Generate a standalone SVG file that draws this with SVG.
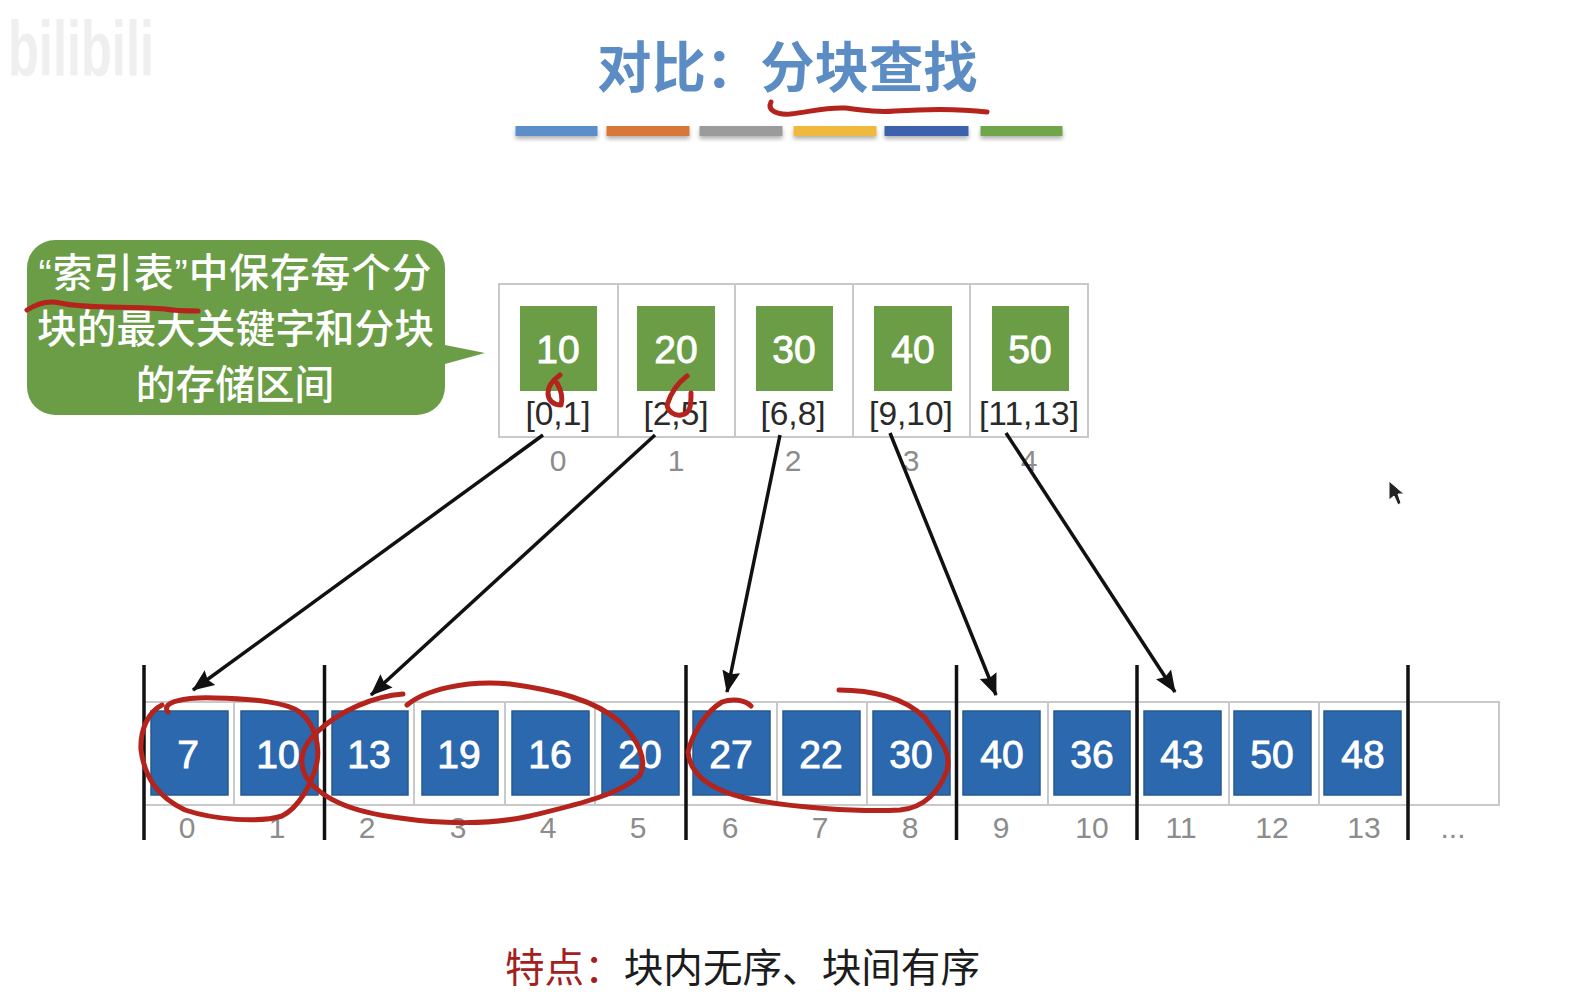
<svg xmlns="http://www.w3.org/2000/svg" width="1570" height="999" viewBox="0 0 1570 999">
<style>
text{font-family:"Liberation Sans","Noto Sans CJK SC",sans-serif}
.c{text-anchor:middle}
.cell{fill:#fff;stroke:#c9c9c9;stroke-width:2}
.blue{fill:#2c68ae;stroke:#25598f;stroke-width:1.5}
.green{fill:#6b9d47}
.num{font-size:39px;fill:#fff;text-anchor:middle;stroke:#fff;stroke-width:.9}
.range{font-size:33.500px;fill:#2a2a2a;text-anchor:middle}
.idx{font-size:30px;fill:#8c8c8c;text-anchor:middle}
.bar{stroke:#111;stroke-width:3.500}
.arrow{stroke:#111;stroke-width:3.500;fill:none;marker-end:url(#ah)}
.ink{fill:none;stroke:#b4231c;stroke-width:5;stroke-linecap:round;stroke-linejoin:round}
.cjk{font-family:"Noto Sans CJK SC",sans-serif}
.tab{filter:url(#sh)}
.call{font-size:39.700px;fill:#fff;text-anchor:middle;font-weight:500}
</style>
<defs>
<marker id="ah" markerUnits="userSpaceOnUse" markerWidth="24" markerHeight="20" refX="21" refY="10" orient="auto"><path d="M0 1L22 10L0 19L3 10Z" fill="#111"/></marker>
<filter id="sh" x="-5%" y="-30%" width="110%" height="190%"><feDropShadow dx="0" dy="3" stdDeviation="2" flood-color="#000" flood-opacity=".3"/></filter>
</defs>
<rect width="1570" height="999" fill="#fff"/>
<g id="watermark"><text x="8" y="76" font-size="78" font-weight="700" fill="#efefef" textLength="146" lengthAdjust="spacingAndGlyphs">bilibili</text></g>
<g id="title"><text class="cjk" x="597" y="87" font-size="54.400" font-weight="700" fill="#5b8cc4">对比&#xFF1A;分块查找</text>
<path class="ink" d="M771 102C767 110 776 115 790 114C810 112 825 107 845 108C865 110 875 113 895 111C925 109 955 108 987 112"/></g>
<g id="tabs" class="tab">
<rect x="515.500" y="126" width="82" height="10" fill="#5b8fc9"/>
<rect x="606.500" y="126" width="83" height="10" fill="#d9773a"/>
<rect x="699.500" y="126" width="83" height="10" fill="#9b9b9b"/>
<rect x="793.500" y="126" width="83" height="10" fill="#efb93c"/>
<rect x="884.500" y="126" width="84" height="10" fill="#3d62ad"/>
<rect x="980.500" y="126" width="82" height="10" fill="#6ea64a"/>
</g>
<g id="callout">
<path class="green" d="M55 240H417A28 28 0 0 1 445 268V345L485 353L445 364V387A28 28 0 0 1 417 415H55A28 28 0 0 1 27 387V268A28 28 0 0 1 55 240Z"/>
<text class="call" x="235" y="287" textLength="393" lengthAdjust="spacing">“索引表”中保存每个分</text>
<text class="call" x="235.500" y="343">块的最大关键字和分块</text>
<text class="call" x="235" y="399">的存储区间</text>
<path class="ink" d="M27 310C38 303 48 300 60 303C85 309 130 306 165 309C176 311 186 311 198 311"/>
</g>
<g transform="translate(1,0)">
<g id="index-table">
<rect class="cell" x="498" y="284" width="589" height="153"/>
<path d="M617 284V437M734 284V437M852 284V437M969 284V437" stroke="#c9c9c9" stroke-width="2"/>
</g>
<g id="idx-0"><rect class="green" x="519" y="306" width="77" height="85"/><text class="num" x="557" y="363">10</text><text class="range" x="557" y="425">[0,1]</text><text class="idx" x="557" y="471">0</text>
<path class="ink" d="M559 375C552 380 547 387 547 393C547 400 552 405 560 405C562 398 560 390 556 383"/></g>
<g id="idx-1"><rect class="green" x="636" y="306" width="78" height="85"/><text class="num" x="675" y="363">20</text><text class="range" x="675" y="425">[2,5]</text><text class="idx" x="675" y="471">1</text>
<path class="ink" d="M686 376C678 382 670 392 666 405C667 412 674 416 680 415C690 414 690 404 690 393"/></g>
<g id="idx-2"><rect class="green" x="755" y="306" width="77" height="85"/><text class="num" x="793" y="363">30</text><text class="range" x="792" y="425">[6,8]</text><text class="idx" x="792" y="471">2</text></g>
<g id="idx-3"><rect class="green" x="873" y="306" width="78" height="85"/><text class="num" x="912" y="363">40</text><text class="range" x="910" y="425">[9,10]</text><text class="idx" x="910" y="471">3</text></g>
<g id="idx-4"><rect class="green" x="991" y="306" width="77" height="85"/><text class="num" x="1029" y="363">50</text><text class="range" x="1028" y="425">[11,13]</text><text class="idx" x="1028" y="471">4</text></g>
</g>
<g transform="translate(1,1)">
<g id="array-frame">
<rect class="cell" x="143" y="701" width="1355" height="103"/>
<path d="M233 701V804M324 701V804M413 701V804M504 701V804M594 701V804M685 701V804M776 701V804M866 701V804M956 701V804M1047 701V804M1137 701V804M1228 701V804M1318 701V804M1408 701V804" stroke="#c9c9c9" stroke-width="2"/>
</g>
<g id="a0"><rect class="blue" x="150" y="710" width="77" height="84"/><text class="num" x="187" y="767">7</text><text class="idx" x="186" y="837">0</text></g>
<g id="a1"><rect class="blue" x="240" y="710" width="77" height="84"/><text class="num" x="277" y="767">10</text><text class="idx" x="276" y="837">1</text></g>
<g id="a2"><rect class="blue" x="331" y="710" width="76" height="84"/><text class="num" x="368" y="767">13</text><text class="idx" x="366" y="837">2</text></g>
<g id="a3"><rect class="blue" x="421" y="710" width="76" height="84"/><text class="num" x="458" y="767">19</text><text class="idx" x="457" y="837">3</text></g>
<g id="a4"><rect class="blue" x="511" y="710" width="77" height="84"/><text class="num" x="549" y="767">16</text><text class="idx" x="547" y="837">4</text></g>
<g id="a5"><rect class="blue" x="601" y="710" width="77" height="84"/><text class="num" x="639" y="767">20</text><text class="idx" x="637" y="837">5</text></g>
<g id="a6"><rect class="blue" x="692" y="710" width="77" height="84"/><text class="num" x="730" y="767">27</text><text class="idx" x="729" y="837">6</text></g>
<g id="a7"><rect class="blue" x="782" y="710" width="77" height="84"/><text class="num" x="820" y="767">22</text><text class="idx" x="819" y="837">7</text></g>
<g id="a8"><rect class="blue" x="872" y="710" width="77" height="84"/><text class="num" x="910" y="767">30</text><text class="idx" x="909" y="837">8</text></g>
<g id="a9"><rect class="blue" x="962" y="710" width="77" height="84"/><text class="num" x="1001" y="767">40</text><text class="idx" x="1000" y="837">9</text></g>
<g id="a10"><rect class="blue" x="1053" y="710" width="76" height="84"/><text class="num" x="1091" y="767">36</text><text class="idx" x="1091" y="837">10</text></g>
<g id="a11"><rect class="blue" x="1143" y="710" width="77" height="84"/><text class="num" x="1181" y="767">43</text><text class="idx" x="1180" y="837">11</text></g>
<g id="a12"><rect class="blue" x="1233" y="710" width="77" height="84"/><text class="num" x="1271" y="767">50</text><text class="idx" x="1271" y="837">12</text></g>
<g id="a13"><rect class="blue" x="1323" y="710" width="77" height="84"/><text class="num" x="1362" y="767">48</text><text class="idx" x="1363" y="837">13</text></g>
<g id="a-more"><text class="idx" x="1452" y="837">...</text></g>
<g id="block-bars">
<path class="bar" d="M143 664V839M323.500 664V839M685 664V839M955.500 664V839M1136 664V839M1407 664V839"/>
</g>
</g>
<g id="connectors">
<path class="arrow" d="M543 435L193 690"/>
<path class="arrow" d="M655 435L371 695"/>
<path class="arrow" d="M780 435L727 692"/>
<path class="arrow" d="M890 433L996 695"/>
<path class="arrow" d="M1006 433L1175 692"/>
</g>
<g id="ink-circles">
<path class="ink" d="M168 712C160 702 185 697 215 698C255 699 285 702 300 712C315 725 320 745 317 762C312 785 298 808 282 816C260 823 215 820 185 810C160 798 145 780 141 750C140 730 148 712 162 705"/>
<path class="ink" d="M403 694C375 696 340 710 316 733C303 745 298 760 305 775C318 797 350 812 400 818C440 824 490 825 530 816C575 805 620 795 640 775C648 760 638 740 620 722C595 700 555 690 510 684C465 680 425 690 407 705"/>
<path class="ink" d="M751 706C745 700 733 698 722 702C705 712 692 735 688 752C690 775 712 790 745 798C790 808 860 812 900 810C925 808 940 790 947 770C951 755 945 745 925 718C905 697 870 690 839 690"/>
</g>
<g id="note">
<text class="cjk" x="505" y="982" font-size="39.600" fill="#a32020">特点&#xFF1A;<tspan fill="#1c1c1c">块内无序、块间有序</tspan></text>
</g>
<g id="cursor"><path d="M1389 481L1389 500L1394 496L1398 505L1401 503L1398 494L1404 494Z" fill="#222" stroke="#fff" stroke-width="1"/></g>
</svg>
